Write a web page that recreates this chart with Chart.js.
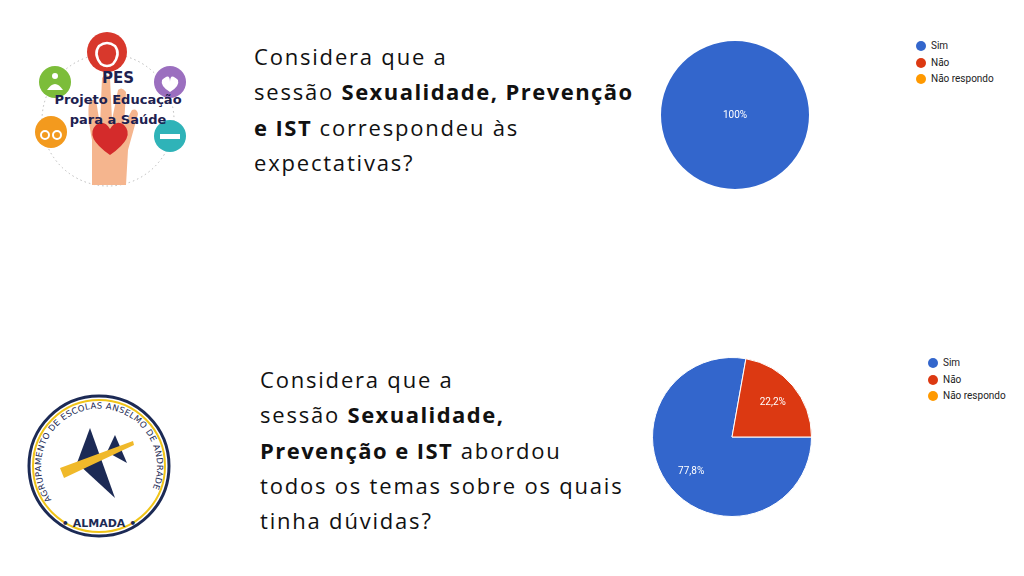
<!DOCTYPE html>
<html>
<head>
<meta charset="utf-8">
<script src="https://cdn.jsdelivr.net/npm/chart.js@4"></script>
<style>
  body { margin:0; width:1024px; height:576px; background:#fff; position:relative; overflow:hidden; font-family:"Open Sans", sans-serif; }
  .q { position:absolute; font-size:22px; letter-spacing:1.8px; line-height:35.3px; color:#111; white-space:nowrap; }
  .q b { font-weight:700; letter-spacing:1.45px; }
  .pie { position:absolute; }
  .legend { position:absolute; font-family:Roboto, Arial, sans-serif; font-size:10px; color:#222; }
  .legend div { position:relative; height:16.5px; line-height:16px; padding-left:10px; }
  .legend span { position:absolute; left:-5px; top:3px; width:10px; height:10px; border-radius:50%; }
  svg { position:absolute; }
</style>
</head>
<body>

<svg style="left:20px;top:25px" width="200" height="170" viewBox="20 25 200 170">
  <circle cx="108" cy="120" r="66" fill="none" stroke="#bbb" stroke-width="1" stroke-dasharray="1.5,3"/>
  <circle cx="107" cy="52" r="20" fill="#d8382c"/>
  <path d="M99 46 q8 -6 16 0 q6 8 -2 18 q-6 4 -12 0 q-8 -10 -2 -18z" fill="none" stroke="#fff" stroke-width="2.5"/>
  <circle cx="55" cy="82" r="16" fill="#7cbd3a"/>
  <circle cx="55" cy="76" r="3" fill="#fff"/><path d="M47 90 q8 -12 16 0z" fill="#fff"/>
  <circle cx="170" cy="82" r="16" fill="#9b6fbf"/>
  <path d="M162 80 q8 -8 8 2 q0 -10 8 -2 q2 6 -8 12 q-10 -6 -8 -12z" fill="#fff"/>
  <circle cx="51" cy="132" r="16" fill="#f39a1e"/>
  <circle cx="45" cy="135" r="4" fill="none" stroke="#fff" stroke-width="2"/><circle cx="57" cy="135" r="4" fill="none" stroke="#fff" stroke-width="2"/>
  <circle cx="170" cy="136" r="16" fill="#2fb3b8"/>
  <rect x="160" y="134" width="20" height="5" fill="#fff"/>
  <path d="M92 185 L92 140 Q86 110 90 100 L96 100 L100 125 L102 78 Q106 72 110 78 L112 120 L118 90 Q122 86 126 92 L124 125 L132 110 Q137 108 138 114 L128 150 L126 185z" fill="#f5b58e"/>
  <path d="M110 155 q-26 -18 -14 -30 q8 -6 14 4 q6 -10 14 -4 q12 12 -14 30z" fill="#d42b2b"/>
  <text x="118" y="83" font-family="Comic Sans MS, DejaVu Sans" font-size="15" font-weight="bold" fill="#1d2150" text-anchor="middle">PES</text>
  <text x="118" y="104" font-family="Comic Sans MS, DejaVu Sans" font-size="13" font-weight="bold" fill="#1d2150" text-anchor="middle">Projeto Educação</text>
  <text x="118" y="124" font-family="Comic Sans MS, DejaVu Sans" font-size="13" font-weight="bold" fill="#1d2150" text-anchor="middle">para a Saúde</text>
</svg>

<svg style="left:20px;top:388px" width="160" height="160" viewBox="20 388 160 160">
  <defs>
    <path id="arcTop" d="M51.6 500 A58 58 0 1 1 146.4 500"/>
  </defs>
  <circle cx="99" cy="466" r="70" fill="#fff" stroke="#1c2a55" stroke-width="3"/>
  <circle cx="99" cy="466" r="66" fill="none" stroke="#f0c419" stroke-width="2"/>
  <text font-family="DejaVu Sans" font-size="8.5" fill="#1c2a55"><textPath href="#arcTop" textLength="240" lengthAdjust="spacing">AGRUPAMENTO DE ESCOLAS ANSELMO DE ANDRADE</textPath></text>
  <text x="99" y="527" font-family="DejaVu Sans" font-size="11" font-weight="bold" fill="#1c2a55" text-anchor="middle">• ALMADA •</text>
  <path d="M77 463 L90 428 L115 498z" fill="#1c2a55"/>
  <path d="M107 452 L115 435 L127 463z" fill="#1c2a55"/>
  <path d="M60 468 L133 441 L134 445 L64 478z" fill="#f0b92a"/>
</svg>

<div class="q" style="left:254px;top:39px">
Considera que a<br>
sessão <b>Sexualidade, Prevenção</b><br>
<b>e IST</b> correspondeu às<br>
expectativas?
</div>

<div class="q" style="left:260px;top:362px">
Considera que a<br>
sessão <b>Sexualidade,</b><br>
<b>Prevenção e IST</b> abordou<br>
todos os temas sobre os quais<br>
tinha dúvidas?
</div>

<div class="pie" style="left:661px;top:41px;width:148px;height:148px"><canvas id="pie1"></canvas></div>
<div class="legend" id="leg1" style="left:921px;top:38px"></div>

<div class="pie" style="left:652px;top:357px;width:160px;height:160px"><canvas id="pie2"></canvas></div>
<div class="legend" id="leg2" style="left:933px;top:355px"></div>

<script>
var labels = ["Sim", "Não", "Não respondo"];
var colors = ["#3366cc", "#dc3912", "#ff9900"];
var expectativas = [100, 0, 0];
var temas = [77.8, 22.2, 0];

// percent labels inside the slices, like google forms
var sliceLabels = {
    id: "sliceLabels",
    afterDatasetsDraw: function(chart) {
        var ctx = chart.ctx;
        var meta = chart.getDatasetMeta(0);
        var data = chart.data.datasets[0].data;
        ctx.save();
        ctx.fillStyle = "#fff";
        ctx.font = "10px Roboto, Arial, sans-serif";
        ctx.textAlign = "center";
        ctx.textBaseline = "middle";
        meta.data.forEach(function(arc, i) {
            if (!data[i]) return;
            var p = arc.getProps(["x", "y", "startAngle", "endAngle", "outerRadius"], true);
            var x = p.x, y = p.y;
            if (p.endAngle - p.startAngle < Math.PI * 2 - 0.001) {
                var mid = (p.startAngle + p.endAngle) / 2;
                x += Math.cos(mid) * p.outerRadius * 0.67;
                y += Math.sin(mid) * p.outerRadius * 0.67;
            }
            ctx.fillText(String(data[i]).replace(".", ",") + "%", x, y);
        });
        ctx.restore();
    }
};

function makePie(id, values, legendId) {
    var slices = values.filter(function(v) { return v > 0; }).length;
    new Chart(document.getElementById(id), {
        type: "pie",
        data: {
            labels: labels,
            datasets: [{
                data: values,
                backgroundColor: colors,
                borderColor: "#fff",
                borderWidth: slices > 1 ? 1 : 0,
                hoverOffset: 0
            }]
        },
        options: {
            responsive: true,
            maintainAspectRatio: false,
            animation: false,
            rotation: 90,
            layout: { padding: 0 },
            plugins: { legend: { display: false }, tooltip: { enabled: false } }
        },
        plugins: [sliceLabels]
    });
    var leg = document.getElementById(legendId);
    labels.forEach(function(l, i) {
        var d = document.createElement("div");
        d.innerHTML = '<span style="background:' + colors[i] + '"></span>' + l;
        leg.appendChild(d);
    });
}

makePie("pie1", expectativas, "leg1");
makePie("pie2", temas, "leg2");
</script>
</body>
</html>
